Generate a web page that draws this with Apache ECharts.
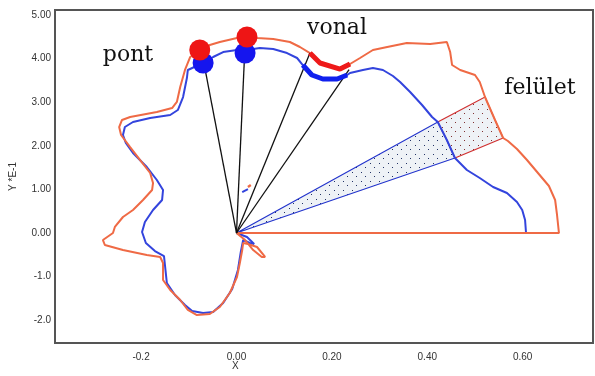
<!DOCTYPE html>
<html><head><meta charset="utf-8">
<script src="https://cdn.jsdelivr.net/npm/echarts@6/dist/echarts.min.js"></script>
<style>html,body{margin:0;padding:0;background:#fff}#c{width:595px;height:376px}</style>
</head><body><div id="c"></div>
<script>
const xTicks = [-0.2, 0, 0.2, 0.4, 0.6];
const xTickLabels = ['-0.2', '0.00', '0.20', '0.40', '0.60'];
const yTicks = [-2, -1, 0, 1, 2, 3, 4, 5];
const yTickLabels = ['-2.0', '-1.0', '0.00', '1.00', '2.00', '3.00', '4.00', '5.00'];

const redCurve = [
  [0,0],[0.676,0],[0.672,0.413],[0.668,0.757],[0.655,1.078],[0.632,1.376],[0.609,1.674],[0.588,1.927],
  [0.569,2.110],[0.559,2.179],[0.542,2.592],[0.521,3.119],[0.510,3.463],[0.500,3.624],[0.469,3.739],
  [0.452,3.853],[0.448,4.151],[0.441,4.381],[0.406,4.335],[0.357,4.358],[0.316,4.266],[0.286,4.197],
  [0.259,4.014],[0.238,3.876],[0.217,3.761],[0.175,3.899],[0.154,4.128],[0.133,4.266],[0.112,4.381],
  [0.077,4.450],[0.043,4.472],[0.022,4.495],[0.001,4.472],[-0.035,4.381],[-0.056,4.312],[-0.077,4.197],
  [-0.097,4.037],[-0.108,3.739],[-0.118,3.349],[-0.125,3.005],[-0.135,2.867],[-0.167,2.775],[-0.223,2.661],
  [-0.240,2.592],[-0.246,2.431],[-0.242,2.248],[-0.223,1.972],[-0.202,1.674],[-0.181,1.376],[-0.175,1.147],
  [-0.177,0.986],[-0.196,0.757],[-0.217,0.528],[-0.238,0.367],[-0.255,0.138],[-0.259,0],[-0.280,-0.161],
  [-0.276,-0.275],[-0.238,-0.390],[-0.188,-0.505],[-0.160,-0.550],[-0.154,-0.688],[-0.154,-1.078],
  [-0.139,-1.307],[-0.118,-1.537],[-0.102,-1.766],[-0.083,-1.881],[-0.056,-1.858],[-0.035,-1.697],
  [-0.014,-1.376],[0.001,-1.009],[0.007,-0.688],[0.012,-0.390],[0.014,-0.229],[0.024,-0.252],
  [0.043,-0.321],[0.060,-0.550],[0.053,-0.550],[0.035,-0.390],[0.018,-0.161],[0,0]
];
const blueCurve = [
  [0,0],[0.607,0],[0.605,0.298],[0.599,0.528],[0.588,0.711],[0.567,0.917],[0.538,1.055],[0.510,1.261],
  [0.483,1.445],[0.458,1.720],[0.441,2.133],[0.422,2.546],[0.410,2.661],[0.389,2.936],[0.364,3.234],
  [0.343,3.463],[0.328,3.601],[0.307,3.739],[0.286,3.784],[0.265,3.739],[0.238,3.670],[0.232,3.624],
  [0.211,3.532],[0.181,3.532],[0.158,3.624],[0.139,3.853],[0.127,4.014],[0.106,4.128],[0.077,4.220],
  [0.049,4.243],[0.035,4.220],[0.018,4.128],[0.001,4.197],[-0.028,4.151],[-0.049,4.037],[-0.070,3.899],
  [-0.102,3.739],[-0.104,3.555],[-0.112,3.119],[-0.123,2.821],[-0.139,2.706],[-0.181,2.638],[-0.217,2.546],
  [-0.234,2.431],[-0.238,2.248],[-0.232,2.064],[-0.217,1.835],[-0.188,1.514],[-0.167,1.216],[-0.154,0.986],
  [-0.156,0.757],[-0.175,0.528],[-0.192,0.252],[-0.198,0.023],[-0.190,-0.229],[-0.171,-0.413],
  [-0.152,-0.528],[-0.150,-0.734],[-0.146,-1.147],[-0.129,-1.422],[-0.108,-1.651],[-0.093,-1.789],
  [-0.070,-1.835],[-0.049,-1.812],[-0.028,-1.606],[-0.009,-1.284],[0.003,-0.849],[0.009,-0.436],
  [0.014,-0.161],[0.028,-0.229],[0.037,-0.252],[0.022,-0.092],[0,0]
];
const redBit = [[0.024,1.055],[0.030,1.10]];
const blueBit = [[0.012,0.940],[0.024,1.009]];
const redPoints = [[-0.077,4.197],[0.022,4.495]];
const bluePoints = [[-0.070,3.899],[0.018,4.128]];
const rayEnds = [[-0.068,3.88],[0.017,4.10],[0.154,4.128],[0.236,3.75]];
const redThickRange = [23, 27];
const blueThickRange = [21, 26];
const wedgeRange = [9, 12];

const origin = [0, 0];
const redThick = redCurve.slice(redThickRange[0], redThickRange[1]);
const blueThick = blueCurve.slice(blueThickRange[0], blueThickRange[1]);
const blueArc = blueCurve.slice(wedgeRange[0], wedgeRange[1]);
const redArc = redCurve.slice(wedgeRange[0], wedgeRange[1]);
const blueWedge = [origin].concat(blueArc);
const redWedge = blueArc.slice().reverse().concat(redArc);

function dotPattern(color) {
  const c = document.createElement('canvas');
  c.width = 9; c.height = 9;
  const g = c.getContext('2d');
  g.fillStyle = '#eef2f6'; g.fillRect(0, 0, 9, 9);
  g.fillStyle = color;
  g.fillRect(1, 1, 1, 1); g.fillRect(5, 5, 1, 1);
  return { image: c, repeat: 'repeat' };
}

function polySeries(poly, stroke, dotColor) {
  return {
    type: 'custom', z: 1, silent: true,
    data: [0],
    renderItem: function (params, api) {
      return {
        type: 'polygon',
        shape: { points: poly.map(p => api.coord(p)) },
        style: { fill: dotPattern(dotColor), stroke: stroke, lineWidth: 1.2 }
      };
    }
  };
}
function lineSeries(data, color, width, z) {
  return { type: 'line', data: data, showSymbol: false, symbol: 'none', z: z, silent: true,
    lineStyle: { color: color, width: width }, animation: false };
}

const rays = rayEnds.map(e => lineSeries([origin, e], '#111', 1.3, 4));

const chart = echarts.init(document.getElementById('c'), null, { renderer: 'canvas' });
chart.setOption({
  animation: false,
  backgroundColor: '#fff',
  grid: { left: 55, right: 2, top: 10, bottom: 33, show: true, borderColor: '#555', borderWidth: 2 },
  xAxis: {
    type: 'value', min: -0.3805, max: 0.7474,
    axisLine: { show: false }, axisTick: { show: false }, splitLine: { show: false },
    axisLabel: {
      customValues: xTicks, margin: 9, color: '#333', fontSize: 10, fontFamily: 'Liberation Sans',
      formatter: v => { const i = xTicks.findIndex(t => Math.abs(t - v) < 1e-9); return i >= 0 ? xTickLabels[i] : ''; }
    }
  },
  yAxis: {
    type: 'value', min: -2.523, max: 5.115,
    name: 'Y *E-1', nameLocation: 'middle', nameGap: 37,
    nameTextStyle: { color: '#333', fontSize: 10, fontFamily: 'Liberation Sans' },
    axisLine: { show: false }, axisTick: { show: false }, splitLine: { show: false },
    axisLabel: {
      customValues: yTicks, margin: 4, color: '#333', fontSize: 10, fontFamily: 'Liberation Sans',
      formatter: v => { const i = yTicks.findIndex(t => Math.abs(t - v) < 1e-9); return i >= 0 ? yTickLabels[i] : ''; }
    }
  },
  graphic: [
    { type: 'text', left: 232, top: 361, style: { text: 'X', fill: '#333', font: '10px "Liberation Sans"' } },
    { type: 'text', x: 128, y: 55, style: { text: 'pont', fill: '#111', font: '22px "DejaVu Serif"', textAlign: 'center', textVerticalAlign: 'middle' } },
    { type: 'text', x: 337, y: 28, style: { text: 'vonal', fill: '#111', font: '22px "DejaVu Serif"', textAlign: 'center', textVerticalAlign: 'middle' } },
    { type: 'text', x: 540, y: 88, style: { text: 'felület', fill: '#111', font: '22px "DejaVu Serif"', textAlign: 'center', textVerticalAlign: 'middle' } }
  ],
  series: [
    polySeries(blueWedge, '#2233cc', '#223366'),
    polySeries(redWedge, '#d03030', '#803030'),
    lineSeries(blueCurve, '#3344dd', 2, 2),
    lineSeries(redCurve, '#ef6a45', 2, 2),
    lineSeries(blueBit, '#3344dd', 2, 2),
    lineSeries(redBit, '#ef6a45', 2.5, 2),
  ].concat(rays).concat([
    lineSeries(blueThick, '#1020ee', 5, 5),
    lineSeries(redThick, '#ee1a1a', 5, 5),
    { type: 'scatter', data: bluePoints, symbol: 'circle', symbolSize: 21, z: 6, silent: true,
      itemStyle: { color: '#1515ee', opacity: 1 } },
    { type: 'scatter', data: redPoints, symbol: 'circle', symbolSize: 21, z: 7, silent: true,
      itemStyle: { color: '#ee1515', opacity: 1 } }
  ])
});
</script>
</body></html>
